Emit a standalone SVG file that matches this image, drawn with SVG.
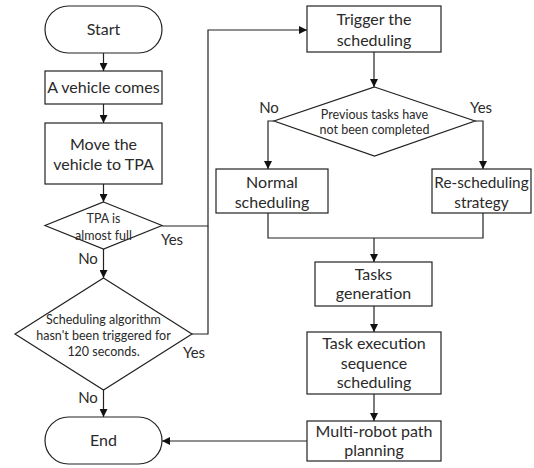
<svg xmlns="http://www.w3.org/2000/svg" width="534" height="468" viewBox="0 0 534 468">
<defs>
<marker id="ah" viewBox="0 0 8 8" refX="8" refY="4" markerWidth="8" markerHeight="8" markerUnits="userSpaceOnUse" orient="auto">
<path d="M0,0 L8,4 L0,8 Z" fill="#111"/>
</marker>
</defs>
<style>
.s{fill:#fff;stroke:#222;stroke-width:1.2}
.c{fill:none;stroke:#222;stroke-width:1.2}
text{font-family:Lato,"Open Sans",sans-serif;fill:#2a2a2a;text-anchor:middle}
.m{font-size:16px}
.n{font-size:15.3px}
.sm{font-size:12.5px}
.l{font-size:15px}
</style>
<rect width="534" height="468" fill="#fff"/>
<g id="connectors">
<line class="c" x1="103.5" y1="53" x2="103.5" y2="71" marker-end="url(#ah)"/>
<line class="c" x1="103.5" y1="104" x2="103.5" y2="123" marker-end="url(#ah)"/>
<line class="c" x1="103.5" y1="184" x2="103.5" y2="202" marker-end="url(#ah)"/>
<line class="c" x1="103.5" y1="249" x2="103.5" y2="278" marker-end="url(#ah)"/>
<line class="c" x1="103.5" y1="390" x2="103.5" y2="417" marker-end="url(#ah)"/>
<polyline class="c" points="162,226 208,226 208,30 307,30" marker-end="url(#ah)"/>
<polyline class="c" points="192,334 208,334 208,226"/>
<line class="c" x1="374" y1="52" x2="374" y2="87" marker-end="url(#ah)"/>
<polyline class="c" points="274,121 268,121 268,169" marker-end="url(#ah)"/>
<polyline class="c" points="475,121 483,121 483,169" marker-end="url(#ah)"/>
<polyline class="c" points="268,213 268,238 483,238 483,213"/>
<line class="c" x1="374" y1="238" x2="374" y2="262" marker-end="url(#ah)"/>
<line class="c" x1="374" y1="306" x2="374" y2="332" marker-end="url(#ah)"/>
<line class="c" x1="374" y1="394" x2="374" y2="421" marker-end="url(#ah)"/>
<line class="c" x1="307" y1="441" x2="162" y2="441" marker-end="url(#ah)"/>
<text class="l" x="172" y="245">Yes</text>
<text class="l" x="88" y="264">No</text>
<text class="l" x="194" y="358">Yes</text>
<text class="l" x="88" y="403">No</text>
<text class="l" x="269" y="113">No</text>
<text class="l" x="481" y="113">Yes</text>
</g>
<g id="start">
<rect class="s" x="45" y="6" width="117" height="47" rx="23.5"/>
<text class="m" x="103.5" y="35">Start</text>
</g>
<g id="vehicle">
<rect class="s" x="45" y="71" width="117" height="33"/>
<text class="m" x="103.5" y="93">A vehicle comes</text>
</g>
<g id="move">
<rect class="s" x="45" y="123" width="117" height="61"/>
<text class="m" x="103.5" y="150">Move the</text>
<text class="m" x="103.5" y="170">vehicle to TPA</text>
</g>
<g id="tpa">
<polygon class="s" points="103.5,202 162,225.5 103.5,249 45,225.5"/>
<text class="sm" x="103.5" y="223">TPA is</text>
<text class="sm" x="103.5" y="240">almost full</text>
</g>
<g id="timer">
<polygon class="s" points="103.5,278 192,334 103.5,390 15,334"/>
<text class="sm" x="103.5" y="324">Scheduling algorithm</text>
<text class="sm" x="103.5" y="340">hasn't been triggered for</text>
<text class="sm" x="103.5" y="356">120 seconds.</text>
</g>
<g id="end">
<rect class="s" x="45" y="417" width="117" height="47" rx="23.5"/>
<text class="m" x="103.5" y="446">End</text>
</g>
<g id="trigger">
<rect class="s" x="307" y="6" width="134" height="46"/>
<text class="m" x="374" y="25">Trigger the</text>
<text class="m" x="374" y="46">scheduling</text>
</g>
<g id="previous">
<polygon class="s" points="374.5,87 475,121 374.5,156 274,121"/>
<text class="sm" x="374.5" y="119">Previous tasks have</text>
<text class="sm" x="374.5" y="134">not been completed</text>
</g>
<g id="normal">
<rect class="s" x="216" y="169" width="112" height="44"/>
<text class="m" x="272" y="188">Normal</text>
<text class="m" x="272" y="208">scheduling</text>
</g>
<g id="resched">
<rect class="s" x="432" y="169" width="99" height="44"/>
<text class="n" x="481.5" y="188">Re-scheduling</text>
<text class="n" x="481.5" y="208">strategy</text>
</g>
<g id="tasks">
<rect class="s" x="315" y="262" width="117" height="44"/>
<text class="m" x="373.5" y="280">Tasks</text>
<text class="m" x="373.5" y="299">generation</text>
</g>
<g id="sequence">
<rect class="s" x="307" y="332" width="134" height="62"/>
<text class="m" x="374" y="349">Task execution</text>
<text class="m" x="374" y="369">sequence</text>
<text class="m" x="374" y="388">scheduling</text>
</g>
<g id="path">
<rect class="s" x="307" y="421" width="134" height="40"/>
<text class="m" x="374" y="437">Multi-robot path</text>
<text class="m" x="374" y="456">planning</text>
</g>
</svg>
